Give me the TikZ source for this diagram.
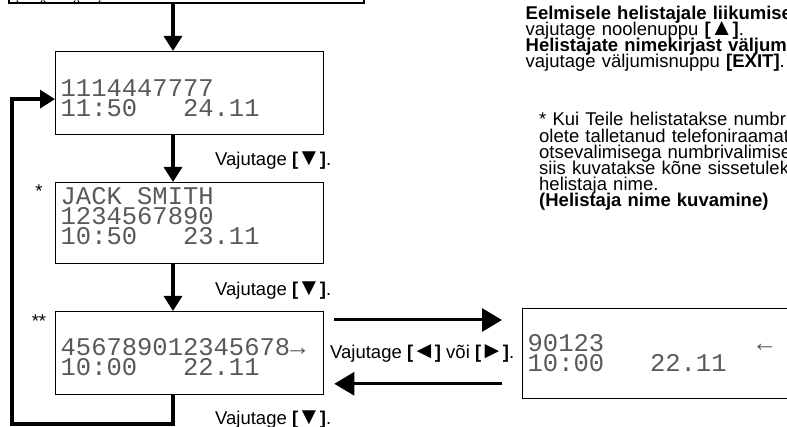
\documentclass[tikz,border=0pt]{standalone}
\usepackage{fontspec}
\setmainfont{Liberation Sans}
\newfontfamily\lcdfont{Liberation Mono}
\usepackage{xcolor}
\usepackage{tikz}
\usetikzlibrary{arrows.meta}

\newcommand\lcdtext{\lcdfont\fontsize{25.5}{20}\selectfont}
\newcommand\notefont{\fontsize{18.5}{16.2}\selectfont\lineskiplimit=-20pt}
\newcommand\lcdgap[1]{\hspace{#1\fontcharwd\font`0}}
\newcommand\keytri[1]{\textbf{[\kern-1pt{\fontsize{24}{24}\selectfont#1}\kern-1pt]}}

\tikzset{
  screen/.style={draw, line width=1.3pt, anchor=north west, inner xsep=5pt, inner ysep=0pt,
    text width=#1, align=left, font=\lcdtext, text=black!65},
  flow/.style={line width=3.3pt, -{Triangle[length=15pt,width=18pt]}},
  flowh/.style={line width=3pt, -{Triangle[length=20pt,width=23pt]}},
  press/.style={anchor=base west, inner sep=0pt, font=\notefont},
}

\begin{document}
\begin{tikzpicture}[x=1pt, y=-1pt]
        \useasboundingbox (0, 0) rectangle (787, 427);
        \coordinate (spine) at (173, 0);

        % menu box, cut at the top
        \node[draw, line width=1.6pt, anchor=south west, minimum width=355, minimum height=40, inner sep=0pt] (menu) at (8, 4) {};
        \draw[line width=0.9pt, rounded corners=2pt] (17, -10) rectangle (42, 2.5);
        \draw[line width=0.9pt, rounded corners=2pt] (44, -10) rectangle (75, 2.5);
        \draw[line width=0.9pt, rounded corners=2pt] (78, -10) rectangle (100, 2.5);

        % screens
        \node[screen=258, text height=44.5pt, text depth=38.5pt] (scr1) at (55, 51)
            {1114447777\\11:50\lcdgap{3}24.11};
        \node[screen=258, text height=22pt, text depth=59pt] (scr2) at (55, 182)
            {JACK\lcdgap{1}SMITH\\1234567890\\10:50\lcdgap{3}23.11};
        \node[screen=258, text height=44pt, text depth=39pt] (scr3) at (55, 311)
            {456789012345678→\\10:00\lcdgap{3}22.11};
        \node[screen=300, text height=43pt, text depth=47pt] (scr4) at (522, 308)
            {90123\lcdgap{10}←\\10:00\lcdgap{3}22.11};

        \node[press, anchor=base] (star1) at (39, 198) {*};
        \node[press, anchor=base] (star2) at (39, 328) {**};

        % down the list
        \draw[flow] (menu.south -| spine) -- (scr1.north -| spine);
        \draw[flow] (scr1.south -| spine) -- (scr2.north -| spine);
        \draw[flow] (scr2.south -| spine) -- (scr3.north -| spine);
        \coordinate (loopturn) at (12, 424);
        \draw[flow] (scr3.south -| spine) |- (loopturn) |- ([yshift=-6pt]scr1.west);

        % scrolling the long number
        \coordinate (hi) at ([shift={(10pt,-9pt)}]scr3.north east);
        \coordinate (lo) at ([shift={(10pt,11.5pt)}]scr3.south east);
        \draw[flowh, shorten >=20pt] (hi) -- (hi -| scr4.west);
        \draw[flowh, shorten <=20pt] (lo -| scr4.west) -- (lo);

        \node[press] (lab1) at (215, 165.5) {Vajutage \keytri{▼}.};
        \node[press] (lab2) at (215, 296) {Vajutage \keytri{▼}.};
        \node[press] (lab3) at (215, 424.5) {Vajutage \keytri{▼}.};
        \node[press] (lab4) at (330, 359) {Vajutage \keytri{◄} või \keytri{►}.};

        % notes on the right
        \node[press, text width=420, align=left] (keys) at (525.5, 19.3)
            {\textbf{Eelmisele helistajale liikumiseks}\\
            vajutage noolenuppu \keytri{▲}.\\
            \textbf{Helistajate nimekirjast väljumiseks}\\
            vajutage väljumisnuppu \textbf{[EXIT]}.};
        \node[press, text width=420, align=left] (callerid) at (539, 126)
            {* Kui Teile helistatakse numbrilt, mille\\
            olete talletanud telefoniraamatusse\\
            otsevalimisega numbrivalimiseks,\\
            siis kuvatakse kõne sissetulekul\\
            helistaja nime.\\
            \textbf{(Helistaja nime kuvamine)}};
\end{tikzpicture}
\end{document}
